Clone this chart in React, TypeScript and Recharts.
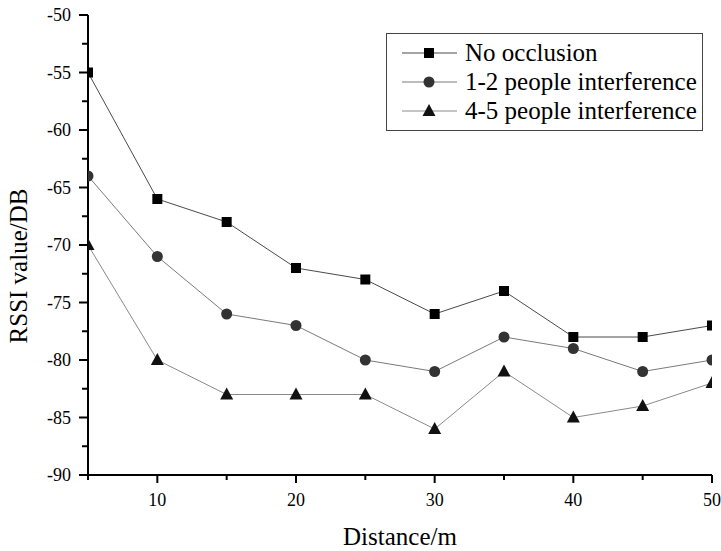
import React from 'react';
import { LineChart, Line, XAxis, YAxis, Legend } from 'recharts';

const distances = [5, 10, 15, 20, 25, 30, 35, 40, 45, 50];
const noOcclusion = [-55, -66, -68, -72, -73, -76, -74, -78, -78, -77];
const people12 = [-64, -71, -76, -77, -80, -81, -78, -79, -81, -80];
const people45 = [-70, -80, -83, -83, -83, -86, -81, -85, -84, -82];

const seriesNames = ['No occlusion', '1-2 people interference', '4-5 people interference'];
const xTicks = [5, 10, 15, 20, 25, 30, 35, 40, 45, 50];
const xMajor = [10, 20, 30, 40, 50];
const yTicks = [-90, -87.5, -85, -82.5, -80, -77.5, -75, -72.5, -70, -67.5, -65, -62.5, -60, -57.5, -55, -52.5, -50];
const yMajor = [-90, -85, -80, -75, -70, -65, -60, -55, -50];

const data = distances.map((d, i) => ({ d, a: noOcclusion[i], b: people12[i], c: people45[i] }));

const FONT = "'Liberation Serif', 'Times New Roman', serif";
const textStyle = { fontFamily: FONT };

const lineColors = ['#4a4a4a', '#7a7a7a', '#8a8a8a'];
const markerColors = ['#000000', '#333333', '#111111'];

function Marker({ kind, cx, cy }: { kind: number; cx: number; cy: number }) {
  if (cx == null || cy == null || isNaN(cx) || isNaN(cy)) return null;
  if (kind === 0) {
    return <rect x={cx - 5} y={cy - 5} width={10} height={10} fill={markerColors[0]} />;
  }
  if (kind === 1) {
    return <circle cx={cx} cy={cy} r={5.5} fill={markerColors[1]} />;
  }
  return (
    <polygon
      points={`${cx},${cy - 7} ${cx - 6.5},${cy + 5} ${cx + 6.5},${cy + 5}`}
      fill={markerColors[2]}
    />
  );
}

const makeDot = (kind: number) => (props: any) => (
  <Marker key={`${kind}-${props.index}`} kind={kind} cx={props.cx} cy={props.cy} />
);

const XTick = (props: any) => {
  const { x, y, payload } = props;
  const major = xMajor.includes(payload.value);
  return (
    <g>
      <line x1={x} x2={x} y1={y} y2={y + (major ? 8 : 5)} stroke="#000" strokeWidth={2} />
      {major && (
        <text x={x} y={y + 31} textAnchor="middle" fontSize={18} style={textStyle} fill="#000">
          {payload.value}
        </text>
      )}
    </g>
  );
};

const YTick = (props: any) => {
  const { x, y, payload } = props;
  const major = yMajor.includes(payload.value);
  return (
    <g>
      <line x1={x} x2={x - (major ? 9 : 6)} y1={y} y2={y} stroke="#000" strokeWidth={2} />
      {major && (
        <text x={x - 17} y={y + 6} textAnchor="end" fontSize={18} style={textStyle} fill="#000">
          {payload.value}
        </text>
      )}
    </g>
  );
};

const LegendBox = () => (
  <svg width={318} height={99} style={{ display: 'block' }}>
    <rect x={0.5} y={0.5} width={316} height={97} fill="#fff" stroke="#444" strokeWidth={1} />
    {seriesNames.map((name, i) => {
      const cy = 20 + i * 29;
      return (
        <g key={name}>
          <line x1={16} x2={71} y1={cy} y2={cy} stroke={lineColors[i]} strokeWidth={1} />
          <Marker kind={i} cx={43} cy={cy} />
          <text x={79} y={cy + 8} fontSize={25} style={textStyle} fill="#000">
            {name}
          </text>
        </g>
      );
    })}
  </svg>
);

export default function App() {
  return (
    <div
      style={{
        position: 'absolute',
        left: 0,
        top: 0,
        width: 721,
        height: 551,
        background: '#fff',
        fontFamily: FONT,
      }}
    >
      <LineChart
        width={721}
        height={551}
        data={data}
        margin={{ top: 15, right: 9, bottom: 0, left: 0 }}
        style={{ fontFamily: FONT }}
      >
        <XAxis
          xAxisId="top"
          orientation="top"
          dataKey="d"
          type="number"
          domain={[5, 50]}
          height={0}
          tick={false}
          tickLine={false}
          stroke="#8a8a8a"
          strokeWidth={1.5}
        />
        <YAxis
          yAxisId="right"
          orientation="right"
          type="number"
          domain={[-90, -50]}
          width={0}
          tick={false}
          tickLine={false}
          stroke="#8a8a8a"
          strokeWidth={1.5}
        />
        <XAxis
          dataKey="d"
          type="number"
          domain={[5, 50]}
          ticks={xTicks}
          allowDataOverflow
          height={76}
          tickSize={0}
          tickMargin={0}
          tickLine={false}
          tick={<XTick />}
          interval={0}
          stroke="#000"
          strokeWidth={2}
          label={{
            content: (p: any) => {
              const vb = p.viewBox || {};
              return (
                <text
                  x={vb.x + vb.width / 2}
                  y={545}
                  textAnchor="middle"
                  fontSize={25}
                  style={textStyle}
                  fill="#000"
                >
                  Distance/m
                </text>
              );
            },
          }}
        />
        <YAxis
          type="number"
          domain={[-90, -50]}
          ticks={yTicks}
          allowDataOverflow
          width={88}
          tickSize={0}
          tickMargin={0}
          tickLine={false}
          tick={<YTick />}
          interval={0}
          stroke="#000"
          strokeWidth={2}
          label={{
            content: (p: any) => {
              const vb = p.viewBox || {};
              const cy = vb.y + vb.height / 2 + 21;
              return (
                <text
                  x={27}
                  y={cy}
                  transform={`rotate(-90, 27, ${cy})`}
                  textAnchor="middle"
                  fontSize={25}
                  style={textStyle}
                  fill="#000"
                >
                  RSSI value/DB
                </text>
              );
            },
          }}
        />
        <Legend
          layout="vertical"
          align="center"
          verticalAlign="middle"
          content={() => <LegendBox />}
          wrapperStyle={{ position: 'absolute', left: 386, top: 33, width: 318, height: 99 }}
        />
        <Line
          dataKey="a"
          name={seriesNames[0]}
          stroke={lineColors[0]}
          strokeWidth={1}
          dot={makeDot(0)}
          activeDot={false}
          isAnimationActive={false}
        />
        <Line
          dataKey="b"
          name={seriesNames[1]}
          stroke={lineColors[1]}
          strokeWidth={1}
          dot={makeDot(1)}
          activeDot={false}
          isAnimationActive={false}
        />
        <Line
          dataKey="c"
          name={seriesNames[2]}
          stroke={lineColors[2]}
          strokeWidth={1}
          dot={makeDot(2)}
          activeDot={false}
          isAnimationActive={false}
        />
      </LineChart>
    </div>
  );
}
